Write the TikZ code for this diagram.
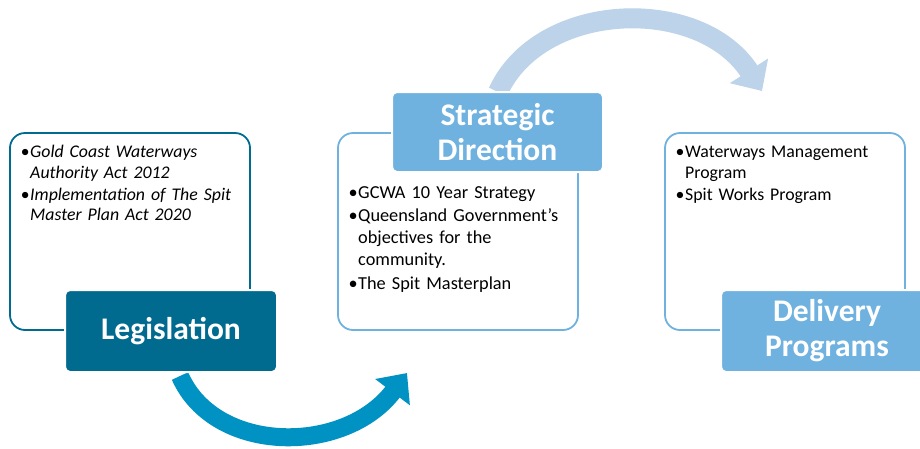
\documentclass[tikz,border=0pt]{standalone}
\usepackage{fontspec}
\setmainfont{Carlito}
\usetikzlibrary{arrows.meta}
\definecolor{darkteal}{HTML}{006B8F}
\definecolor{lightblue}{HTML}{6FB1DF}
\definecolor{arrowcyan}{HTML}{0092C3}
\definecolor{arrowpale}{HTML}{BCD3E9}
\newcommand{\bul}[1]{\par\hangindent=9.5pt\hangafter=1\noindent\makebox[9.5pt][l]{\textbullet}#1\par\vspace{1.5pt}}
\tikzset{
  panel/.style={draw, line width=1.8pt, rounded corners=15pt, fill=white},
  titlebox/.style={draw=white, line width=2pt, rounded corners=5pt, text=white, font=\fontsize{31.5}{35}\selectfont\bfseries, align=center, inner sep=0pt},
  listtext/.style={anchor=north west, inner sep=0pt, text width=218pt, align=left, execute at begin node={\hyphenpenalty=10000\exhyphenpenalty=10000}},
  bigarrow/.style={line width=18pt}
}
\begin{document}
\begin{tikzpicture}[x=1pt,y=-1pt]
\useasboundingbox (0,0) rectangle (920,448);
\clip (0,0) rectangle (920,448);
% connectors
\coordinate (a1s) at (180,376);
\coordinate (a1e) at (407,373);
\coordinate (a2s) at (498,92);
\coordinate (a2e) at (762,91);
\draw[bigarrow, arrowcyan, -{Triangle[length=24pt,width=42pt]}] (a1s) .. controls (215,455) and (345,455) .. (a1e);
\draw[bigarrow, arrowpale, line width=20pt, -{Triangle[length=24pt,width=44pt]}] (a2s) .. controls (540,0) and (700,-5) .. (a2e);
% panels
\node[panel, draw=darkteal, minimum width=240pt, minimum height=197pt] (p1) at (130,231.5) {};
\node[panel, draw=lightblue, minimum width=240pt, minimum height=197pt] (p2) at (458,231.5) {};
\node[panel, draw=lightblue, minimum width=240pt, minimum height=197pt] (p3) at (785,231.5) {};
% titles
\node[titlebox, fill=darkteal, minimum width=212pt, minimum height=82pt] (t1) at (171,331) {Legislation};
\node[titlebox, fill=lightblue, minimum width=211pt, minimum height=80pt] (t2) at (497.5,132) {Strategic\\Direction};
\node[titlebox, fill=lightblue, minimum width=212pt, minimum height=82pt] (t3) at (827,331) {Delivery\\Programs};
% texts
\node[listtext, font=\fontsize{17.8}{20.5}\selectfont\itshape] (x1) at (20.5,137) {%
\bul{Gold Coast Waterways Authority Act 2012}
\bul{Implementation of The Spit Master Plan Act 2020}};
\node[listtext, font=\fontsize{18.3}{22}\selectfont, text width=213pt] (x2) at (348.5,176) {%
\bul{GCWA 10 Year Strategy}
\bul{Queensland Government’s objectives for the community.}
\bul{The Spit Masterplan}};
\node[listtext, font=\fontsize{17.8}{20.5}\selectfont] (x3) at (675.5,137) {%
\bul{Waterways Management Program}
\bul{Spit Works Program}};
\end{tikzpicture}
\end{document}
